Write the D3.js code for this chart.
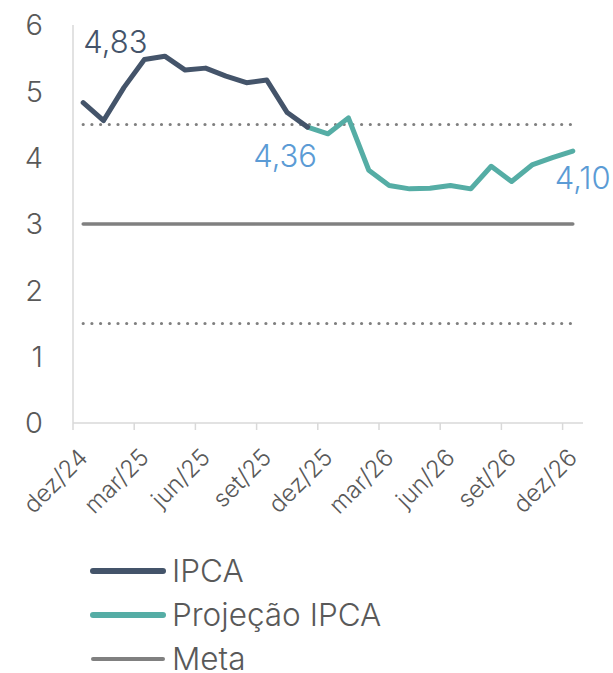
<!DOCTYPE html>
<html>
<head>
<meta charset="utf-8">
<script src="https://cdn.jsdelivr.net/npm/d3@7"></script>
<style>
  body { margin: 0; background: #fff; }
  text { font-family: Inter, 'Open Sans', sans-serif; font-weight: 300; }
</style>
</head>
<body>
<div id="chart"></div>
<script>
// Monthly categories
const months = ['dez/24','jan/25','fev/25','mar/25','abr/25','mai/25','jun/25','jul/25','ago/25','set/25','out/25','nov/25',
  'dez/25','jan/26','fev/26','mar/26','abr/26','mai/26','jun/26','jul/26','ago/26','set/26','out/26','nov/26','dez/26'];

// IPCA 12m (observed)
const ipca = [4.83, 4.56, 5.06, 5.48, 5.53, 5.32, 5.35, 5.23, 5.13, 5.17, 4.68, 4.46,
  null, null, null, null, null, null, null, null, null, null, null, null, null];

// IPCA projection
const projecao = [null, null, null, null, null, null, null, null, null, null, null, 4.46,
  4.36, 4.60, 3.81, 3.58, 3.53, 3.54, 3.58, 3.53, 3.87, 3.64, 3.89, 4.00, 4.10];

const meta = 3.0, tetoMeta = 4.5, pisoMeta = 1.5;
const yTicks = [0, 1, 2, 3, 4, 5, 6];

const width = 613, height = 673;
const margin = { top: 25, right: 30, bottom: 250, left: 73 };
const innerW = width - margin.left - margin.right,
      innerH = height - margin.top - margin.bottom;

const svg = d3.select('#chart').append('svg')
    .attr('width', width)
    .attr('height', height);

const g = svg.append('g')
    .attr('transform', 'translate(' + margin.left + ',' + margin.top + ')');

const xScale = d3.scaleBand().domain(months).range([0, innerW]).padding(0);
const yScale = d3.scaleLinear().domain([0, 6]).range([innerH, 0]);
const cx = function(m) { return xScale(m) + xScale.bandwidth() / 2; };

// axes
g.append('line')
    .attr('x1', 0).attr('x2', 0).attr('y1', 0).attr('y2', innerH)
    .attr('stroke', '#d9d9d9').attr('stroke-width', 1.5);
g.append('line')
    .attr('x1', 0).attr('x2', innerW).attr('y1', innerH).attr('y2', innerH)
    .attr('stroke', '#d9d9d9').attr('stroke-width', 1.5);

g.selectAll('.ytick')
    .data(yTicks)
    .enter().append('text')
      .attr('x', -30)
      .attr('y', function(d) { return yScale(d); })
      .attr('dy', '0.36em')
      .attr('text-anchor', 'end')
      .style('font-size', '29px')
      .style('fill', '#595959')
      .text(function(d) { return d; });

const tickMonths = months.filter(function(d, i) { return i % 3 === 0; });
g.selectAll('.xtick')
    .data(tickMonths)
    .enter().append('line')
      .attr('x1', function(d) { return xScale(d); })
      .attr('x2', function(d) { return xScale(d); })
      .attr('y1', innerH).attr('y2', innerH + 7)
      .attr('stroke', '#d9d9d9').attr('stroke-width', 1.5);

g.selectAll('.xlabel')
    .data(tickMonths)
    .enter().append('text')
      .attr('text-anchor', 'end')
      .attr('transform', function(d) { return 'translate(' + (cx(d) + 6) + ',' + (innerH + 36) + ') rotate(-45)'; })
      .style('font-size', '24px')
      .style('fill', '#595959')
      .text(function(d) { return d; });

// meta lines
const flat = function(v) { return months.map(function(m) { return { m: m, v: v }; }); };
const flatLine = d3.line().x(function(d) { return cx(d.m); }).y(function(d) { return yScale(d.v); });

[tetoMeta, pisoMeta].forEach(function(v) {
  g.append('path')
      .attr('d', flatLine(flat(v)))
      .attr('fill', 'none')
      .attr('stroke', '#7f7f7f')
      .attr('stroke-width', 3.2)
      .attr('stroke-linecap', 'round')
      .attr('stroke-dasharray', '0 8.7');
});

g.append('path')
    .attr('d', flatLine(flat(meta)))
    .attr('fill', 'none')
    .attr('stroke', '#808080')
    .attr('stroke-width', 3.5)
    .attr('stroke-linecap', 'round');

// series
const line = d3.line()
    .defined(function(d) { return d.v != null; })
    .x(function(d) { return cx(d.m); })
    .y(function(d) { return yScale(d.v); });

const toPts = function(arr) { return arr.map(function(v, i) { return { m: months[i], v: v }; }); };

g.append('path')
    .attr('d', line(toPts(projecao)))
    .attr('fill', 'none')
    .attr('stroke', '#55ada5')
    .attr('stroke-width', 5)
    .attr('stroke-linejoin', 'round')
    .attr('stroke-linecap', 'round');

g.append('path')
    .attr('d', line(toPts(ipca)))
    .attr('fill', 'none')
    .attr('stroke', '#44546a')
    .attr('stroke-width', 5)
    .attr('stroke-linejoin', 'round')
    .attr('stroke-linecap', 'round');

// data labels
const fmt = function(v) { return v.toFixed(2).replace('.', ','); };
g.append('text')
    .attr('x', cx(months[0]))
    .attr('y', yScale(ipca[0]) - 50)
    .style('font-size', '31px')
    .style('fill', '#44546a')
    .text(fmt(ipca[0]));
g.append('text')
    .attr('x', cx(months[12]) - 11)
    .attr('y', yScale(projecao[12]) + 33)
    .attr('text-anchor', 'end')
    .style('font-size', '31px')
    .style('fill', '#5b9bd5')
    .text(fmt(projecao[12]));
g.append('text')
    .attr('x', cx(months[24]) - 18)
    .attr('y', yScale(projecao[24]) + 38)
    .style('font-size', '31px')
    .style('fill', '#5b9bd5')
    .text(fmt(projecao[24]));

// legend
const legendItems = [
  { name: 'IPCA', color: '#44546a', w: 6 },
  { name: 'Projeção IPCA', color: '#55ada5', w: 6 },
  { name: 'Meta', color: '#808080', w: 4 }
];
const legend = svg.append('g').attr('transform', 'translate(93,571)');
const li = legend.selectAll('g')
    .data(legendItems)
    .enter().append('g')
      .attr('transform', function(d, i) { return 'translate(0,' + (i * 44) + ')'; });
li.append('line')
    .attr('x1', 0).attr('x2', 70).attr('y1', 0).attr('y2', 0)
    .attr('stroke', function(d) { return d.color; })
    .attr('stroke-width', function(d) { return d.w; })
    .attr('stroke-linecap', 'round');
li.append('text')
    .attr('x', 79)
    .attr('dy', '0.36em')
    .style('font-size', '31.5px')
    .style('fill', '#595959')
    .text(function(d) { return d.name; });
</script>
</body>
</html>
